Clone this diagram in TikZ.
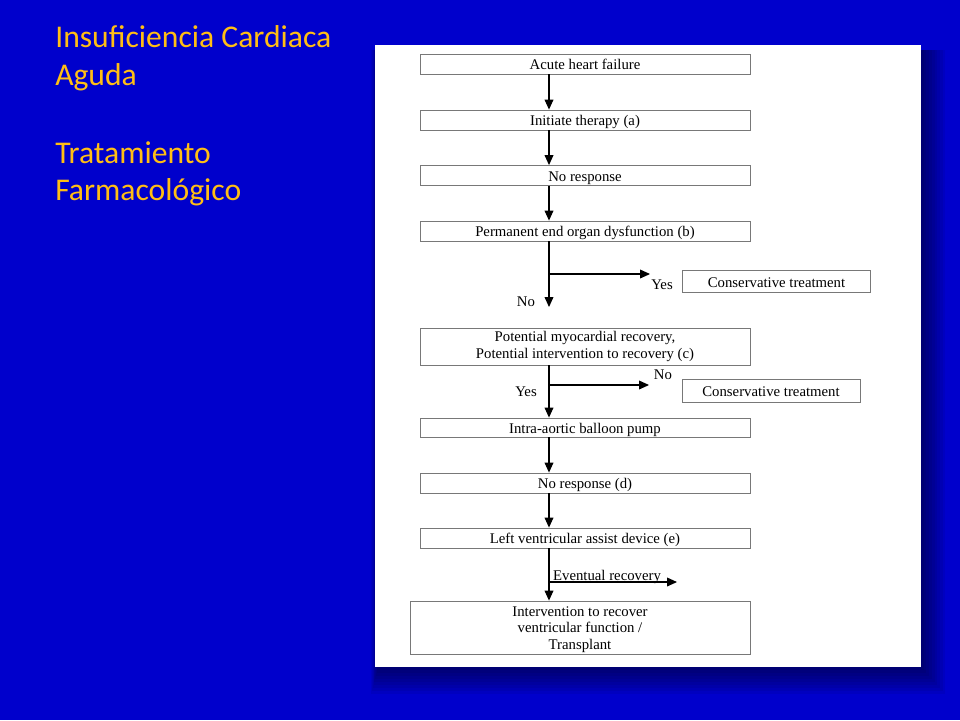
\documentclass[tikz,border=0pt]{standalone}
\usepackage{fontspec}
\usepackage{tikz}
\usetikzlibrary{positioning, arrows.meta}
\setmainfont{Liberation Serif}
\newfontfamily\titlefont{Carlito}
\definecolor{slideblue}{RGB}{0,0,204}
\definecolor{titlegold}{RGB}{255,190,20}
\definecolor{boxline}{RGB}{120,120,120}

\begin{document}
\begin{tikzpicture}[x=0.25mm, y=-0.25mm, font=\fontsize{10.5}{12}\selectfont,
  bm/.style={rectangle, draw=boxline, line width=0.6pt, fill=white, inner sep=0pt,
             minimum width=82.5mm, align=center},
  b/.style={bm, minimum height=5mm, text height=9pt, text depth=1pt},
  cons/.style={b, minimum width=47.2mm, minimum height=5.3mm},
  ttl/.style={anchor=base west, inner sep=0pt, text=titlegold,
              font=\titlefont\fontsize{22.5}{27}\selectfont},
  lbl/.style={inner sep=0pt},
  arr/.style={-{Triangle[length=2.5mm, width=2.2mm]}, line width=0.8pt, draw=black}]
\useasboundingbox (0,0) rectangle (960,720);
\fill[slideblue] (0,0) rectangle (960,720);
% shadow and white panel
\foreach \s in {3,6,...,27}
  \fill[black, opacity=0.06] (378-\s/4,50) rectangle (921+\s*0.9,667+\s);
\fill[white] (375,45) rectangle (921,667);
% title
\node[ttl] (t1) at (55,47) {Insuficiencia Cardiaca};
\node[ttl] (t2) at (55,85) {Aguda};
\node[ttl] (t3) at (55,163) {Tratamiento};
\node[ttl] (t4) at (55,200) {Farmacológico};
% flowchart
\coordinate (stem) at (549,0);
\node[b] (ahf) at (585,64) {Acute heart failure};
\node[b] (init) at (585,120) {Initiate therapy (a)};
\node[b] (nr) at (585,175.5) {No response};
\node[b] (peod) at (585,231) {Permanent end organ dysfunction (b)};
\node[bm, minimum height=9.25mm] (pmr) at (585,346.5) {Potential myocardial recovery,\\Potential intervention to recovery (c)};
\node[b, minimum height=4.75mm] (iabp) at (585,427.5) {Intra-aortic balloon pump};
\node[b] (nrd) at (585,483) {No response (d)};
\node[b] (lvad) at (585,538) {Left ventricular assist device (e)};
\node[bm, minimum width=85mm, minimum height=13.25mm] (irv) at (580,627.5) {\rule{0pt}{10pt}Intervention to recover\\ventricular function /\\Transplant};
\node[cons] (ct1) at (776.5,281.5) {Conservative treatment};
\node[cons, minimum width=44.5mm, minimum height=5.75mm] (ct2) at (771,390.5) {Conservative treatment};
\coordinate (end1) at (549,307);
\coordinate (br1) at (549,274);
\coordinate (tip1) at (650,274);
\coordinate (br2) at (549,385);
\coordinate (tip2) at (649,385);
\coordinate (br3) at (549,582);
\coordinate (tip3) at (677,582);
\draw[arr] (ahf.south -| stem) -- (init.north -| stem);
\draw[arr] (init.south -| stem) -- (nr.north -| stem);
\draw[arr] (nr.south -| stem) -- (peod.north -| stem);
\draw[arr] (peod.south -| stem) -- (end1);
\draw[arr] (br1) -- (tip1);
\draw[arr] (pmr.south -| stem) -- (iabp.north -| stem);
\draw[arr] (br2) -- (tip2);
\draw[arr] (iabp.south -| stem) -- (nrd.north -| stem);
\draw[arr] (nrd.south -| stem) -- (lvad.north -| stem);
\draw[arr] (lvad.south -| stem) -- (irv.north -| stem);
\draw[arr] (br3) -- (tip3);
\node[lbl] (yes1) at (662,285) {Yes};
\node[lbl] (no1) at (526,302) {No};
\node[lbl] (no2) at (663,375) {No};
\node[lbl] (yes2) at (526,392) {Yes};
\node[lbl, anchor=base] (evr) at (607,580) {Eventual recovery};
\end{tikzpicture}
\end{document}
